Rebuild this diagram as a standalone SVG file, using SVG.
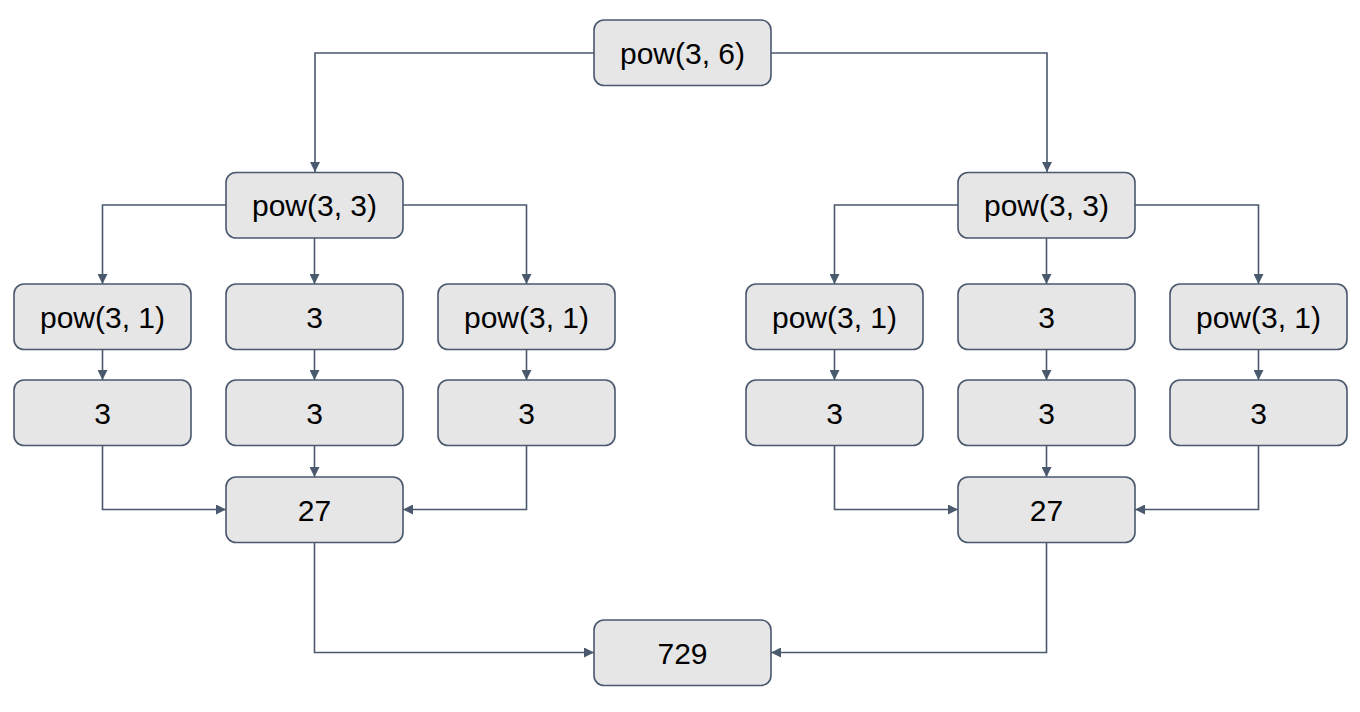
<svg xmlns="http://www.w3.org/2000/svg" width="1360" height="712" viewBox="0 0 1360 712">
<style>
.n rect{fill:#e6e6e6;stroke:#4a596d;stroke-width:1.6}
.n text{font-family:"Liberation Sans",Arial,sans-serif;font-size:30px;fill:#000;text-anchor:middle;dominant-baseline:central}
.c path{fill:none;stroke:#4a596d;stroke-width:1.6}
</style>
<defs>
<marker id="a" viewBox="0 0 10 10" refX="10" refY="5" markerWidth="10" markerHeight="10" markerUnits="userSpaceOnUse" orient="auto">
<path d="M0,0 L10,5 L0,10 z" fill="#4a596d"/>
</marker>
</defs>
<rect width="1360" height="712" fill="#fff"/>
<g class="c">
<path d="M594,53 H315 V172" marker-end="url(#a)"/>
<path d="M771,53 H1047 V172" marker-end="url(#a)"/>
<path d="M226,205 H102.5 V284" marker-end="url(#a)"/>
<path d="M314.5,238 V284" marker-end="url(#a)"/>
<path d="M403,205 H526.5 V284" marker-end="url(#a)"/>
<path d="M958,205 H834.5 V284" marker-end="url(#a)"/>
<path d="M1046.5,238 V284" marker-end="url(#a)"/>
<path d="M1135,205 H1258.5 V284" marker-end="url(#a)"/>
<path d="M102.5,349 V380" marker-end="url(#a)"/>
<path d="M314.5,349 V380" marker-end="url(#a)"/>
<path d="M526.5,349 V380" marker-end="url(#a)"/>
<path d="M834.5,349 V380" marker-end="url(#a)"/>
<path d="M1046.5,349 V380" marker-end="url(#a)"/>
<path d="M1258.5,349 V380" marker-end="url(#a)"/>
<path d="M102.5,445 V509.5 H226" marker-end="url(#a)"/>
<path d="M314.5,445 V477" marker-end="url(#a)"/>
<path d="M526.5,445 V509.5 H403" marker-end="url(#a)"/>
<path d="M834.5,445 V509.5 H958" marker-end="url(#a)"/>
<path d="M1046.5,445 V477" marker-end="url(#a)"/>
<path d="M1258.5,445 V509.5 H1135" marker-end="url(#a)"/>
<path d="M314.5,542 V652.5 H594" marker-end="url(#a)"/>
<path d="M1046.5,542 V652.5 H771" marker-end="url(#a)"/>
</g>
<g id="root" class="n"><rect x="594" y="20" width="177" height="65.5" rx="10"/><text x="682.5" y="53">pow(3, 6)</text></g>
<g id="l2" class="n"><rect x="226" y="172.5" width="177" height="65.5" rx="10"/><text x="314.5" y="205">pow(3, 3)</text></g>
<g id="r2" class="n"><rect x="958" y="172.5" width="177" height="65.5" rx="10"/><text x="1046.5" y="205">pow(3, 3)</text></g>
<g id="l3a" class="n"><rect x="14" y="284" width="177" height="65.5" rx="10"/><text x="102.5" y="317">pow(3, 1)</text></g>
<g id="l3b" class="n"><rect x="226" y="284" width="177" height="65.5" rx="10"/><text x="314.5" y="317">3</text></g>
<g id="l3c" class="n"><rect x="438" y="284" width="177" height="65.5" rx="10"/><text x="526.5" y="317">pow(3, 1)</text></g>
<g id="r3a" class="n"><rect x="746" y="284" width="177" height="65.5" rx="10"/><text x="834.5" y="317">pow(3, 1)</text></g>
<g id="r3b" class="n"><rect x="958" y="284" width="177" height="65.5" rx="10"/><text x="1046.5" y="317">3</text></g>
<g id="r3c" class="n"><rect x="1170" y="284" width="177" height="65.5" rx="10"/><text x="1258.5" y="317">pow(3, 1)</text></g>
<g id="l4a" class="n"><rect x="14" y="380" width="177" height="65.5" rx="10"/><text x="102.5" y="413">3</text></g>
<g id="l4b" class="n"><rect x="226" y="380" width="177" height="65.5" rx="10"/><text x="314.5" y="413">3</text></g>
<g id="l4c" class="n"><rect x="438" y="380" width="177" height="65.5" rx="10"/><text x="526.5" y="413">3</text></g>
<g id="r4a" class="n"><rect x="746" y="380" width="177" height="65.5" rx="10"/><text x="834.5" y="413">3</text></g>
<g id="r4b" class="n"><rect x="958" y="380" width="177" height="65.5" rx="10"/><text x="1046.5" y="413">3</text></g>
<g id="r4c" class="n"><rect x="1170" y="380" width="177" height="65.5" rx="10"/><text x="1258.5" y="413">3</text></g>
<g id="l5" class="n"><rect x="226" y="477" width="177" height="65.5" rx="10"/><text x="314.5" y="510">27</text></g>
<g id="r5" class="n"><rect x="958" y="477" width="177" height="65.5" rx="10"/><text x="1046.5" y="510">27</text></g>
<g id="result" class="n"><rect x="594" y="620" width="177" height="65.5" rx="10"/><text x="682.5" y="653">729</text></g>
</svg>
